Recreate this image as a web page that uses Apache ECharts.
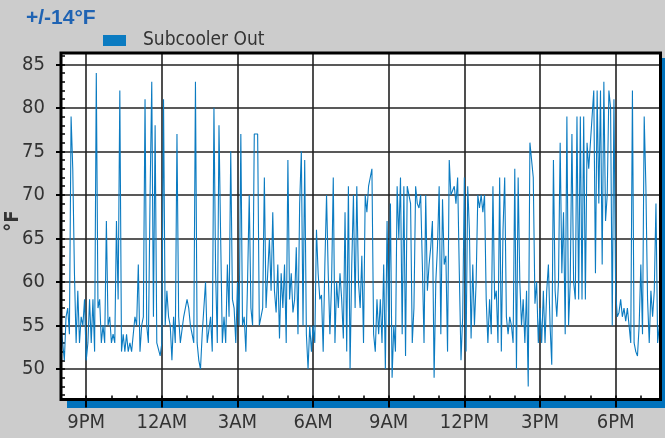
<!DOCTYPE html>
<html>
<head>
<meta charset="utf-8">
<script src="https://cdn.jsdelivr.net/npm/echarts@6/dist/echarts.min.js"></script>
<style>
    html, body { margin: 0; padding: 0; background: #cccccc; }
    #chart { width: 665px; height: 438px; }
</style>
</head>
<body>
<div id="chart"></div>
<script>
"use strict";

// readings every 4 minutes, starting 8:00PM (x = hours after 9PM)
var startHour = -1;
var stepMinutes = 4;

var evening = [ // 8PM - 3AM
    55, 53, 51, 56, 57, 54, 79, 73, 61, 53,
    59, 53, 56, 55, 58, 51, 53, 58, 53, 58,
    52, 84, 57, 58, 53, 55, 53, 67, 55, 56,
    53, 54, 53, 67, 58, 82, 52, 54, 52, 54,
    52, 53, 52, 54, 56, 55, 62, 52, 55, 56,
    81, 55, 53, 70, 83, 56, 78, 53, 53, 51.5,
    53, 81, 55, 59, 56, 55, 51, 56, 53, 77,
    56, 53, 53, 56, 57, 58, 57, 55, 54, 53,
    83, 53, 51, 50, 54, 57, 60, 53, 53, 56,
    52, 80, 61, 53, 78, 65, 53, 56, 53, 62,
    56, 75, 58, 57, 53, 60, 55, 77, 55, 56,
    52, 60, 70, 57, 55, 77
];
var night = [ // 3AM - 7AM
    77, 77, 55, 55, 57, 72, 57, 57, 65, 59,
    68, 59, 56.5, 62, 53.5, 61, 57, 62, 53, 74,
    58, 61, 56.5, 58, 64, 54, 69, 75, 55, 74,
    54, 50, 55, 52, 55, 53, 66, 61, 58, 58.5,
    52, 62, 70, 61, 54, 60, 72, 53, 60, 57,
    61, 58, 53.5, 68, 52, 71, 50, 62, 70, 57
];
var morning = [ // 7AM - 11AM
    71, 60, 57, 63, 53, 70, 68, 71, 72, 73,
    54, 52, 58, 54, 58, 53, 62, 50, 67, 55,
    69, 49, 55, 52, 71, 65, 72, 54, 71, 51.5,
    71, 70, 69, 53, 57, 71, 69, 68.5, 70, 62,
    53, 70, 59, 62, 64, 67, 49, 60, 64, 71,
    54, 69.5, 62, 63, 52, 74, 70, 70, 71, 69, 72, 61
];
var afternoon = [ // 11AM - 4PM
    51, 56, 72, 52, 71, 66, 53.5, 62, 55, 60,
    70, 68.5, 70, 68, 70, 58, 53, 58, 54, 71,
    58, 59, 53, 72, 52, 66, 72, 56, 54, 56,
    55, 53, 73, 50, 72, 60, 55, 58, 53, 59,
    48, 76, 74, 72, 57.5, 60, 53, 57, 53, 59,
    53, 59, 62, 55, 50.5, 74, 59, 56, 60, 76
];
var lateDay = [ // 4PM - 7:45PM
    61, 68, 54, 79, 55, 60, 77, 60, 58, 79,
    58, 79, 58, 79, 58, 76, 73, 76, 79, 82,
    61, 82, 69, 82, 62, 83, 67, 70, 82, 80,
    55, 81, 59, 56, 56.5, 58, 56, 57, 55.5, 57,
    55, 53, 82, 53, 52, 51.5, 55, 62, 54, 79,
    71, 58, 53, 59, 56, 59, 69, 53, 55
];

var tickHours = [0, 3, 6, 9, 12, 15, 18, 21];
var tickLabels = ['9PM', '12AM', '3AM', '6AM', '9AM', '12PM', '3PM', '6PM'];
var minorHours = [];
for (var h = startHour; h <= 22; h++) minorHours.push(h);
var yMajor = [50, 55, 60, 65, 70, 75, 80, 85];
var yMinor = [];
for (var v = 47; v <= 86; v++) yMinor.push(v);
var yName = '°F';

var seriesName = 'Subcooler Out';
var values = evening.concat(night, morning, afternoon, lateDay);
var seriesData = values.map(function (val, i) {
    return [startHour + i * stepMinutes / 60, val];
});

var FONT = '"Liberation Sans Narrow", "DejaVu Sans Condensed", "Liberation Sans", sans-serif';
var BLUE = '#0b7bc1';

// plot box, in pixels
var box = { left: 61, top: 53, width: 599.5, height: 346.5 };

var option = {
    backgroundColor: '#cccccc',
    animation: false,
    title: {
        text: '+/-14°F',
        left: 26, top: 8, padding: 0,
        textStyle: { color: '#1f63b3', fontWeight: 'bold', fontSize: 21, fontFamily: '"Liberation Sans", sans-serif' }
    },
    legend: {
        data: [seriesName],
        left: 103, top: 31, padding: 0,
        icon: 'rect', itemWidth: 23, itemHeight: 11,
        textStyle: { color: '#333', fontSize: 19, fontFamily: FONT, padding: [0, 0, 0, 12] }
    },
    graphic: [
        // blue offset shadow behind the plot
        { type: 'rect', z: -2, shape: { x: box.left + 6, y: box.top + 5, width: box.width, height: box.height + 3.5 }, style: { fill: '#0072bc' } },
        { type: 'rect', z: -1, shape: { x: box.left, y: box.top, width: box.width, height: box.height }, style: { fill: '#fff' } },
        { type: 'rect', z: 50, shape: { x: box.left, y: box.top, width: box.width, height: box.height }, style: { fill: null, stroke: '#000', lineWidth: 3 } },
        // y axis title, reading bottom to top
        {
            type: 'text', x: 13, y: 221, rotation: Math.PI / 2,
            style: { text: yName, align: 'center', verticalAlign: 'middle', fill: '#333', font: 'bold 20px ' + FONT }
        }
    ],
    grid: { left: box.left, top: box.top, width: box.width, height: box.height, show: false, outerBoundsMode: 'none', containLabel: false },
    xAxis: [{
        type: 'value', min: -1, max: 22.78,
        axisLine: { show: false, onZero: false },
        axisTick: { customValues: tickHours, length: 8, lineStyle: { color: '#000', width: 2 } },
        axisLabel: {
            customValues: tickHours, margin: 13, color: '#333', fontSize: 20, fontFamily: FONT,
            formatter: function (val) { return tickLabels[tickHours.indexOf(val)]; }
        },
        splitLine: { show: true, lineStyle: { color: '#222', width: 1.6 } }
    }, {
        // hourly minor ticks
        type: 'value', min: -1, max: 22.78, position: 'bottom',
        axisLine: { show: false, onZero: false },
        axisTick: { customValues: minorHours, inside: true, length: 4, lineStyle: { color: '#000', width: 1.5 } },
        axisLabel: { show: false },
        splitLine: { show: false }
    }],
    yAxis: [{
        type: 'value', min: 46.5, max: 86.3,
        axisLine: { show: false, onZero: false },
        axisTick: { customValues: yMajor, length: 5, lineStyle: { color: '#000', width: 2 } },
        axisLabel: { customValues: yMajor, margin: 16, color: '#333', fontSize: 20, fontFamily: FONT },
        splitLine: { show: true, lineStyle: { color: '#222', width: 1.6 } }
    }, {
        // unit minor ticks
        type: 'value', min: 46.5, max: 86.3, position: 'left', offset: 0,
        axisLine: { show: false, onZero: false },
        axisTick: { customValues: yMinor, inside: true, length: 4, lineStyle: { color: '#000', width: 1.5 } },
        axisLabel: { show: false },
        splitLine: { show: false }
    }],
    series: [{
        name: seriesName,
        type: 'line',
        data: seriesData,
        showSymbol: false,
        color: BLUE,
        lineStyle: { width: 1.1, color: BLUE }
    }]
};

var chart = echarts.init(document.getElementById('chart'));
chart.setOption(option);
</script>
</body>
</html>
